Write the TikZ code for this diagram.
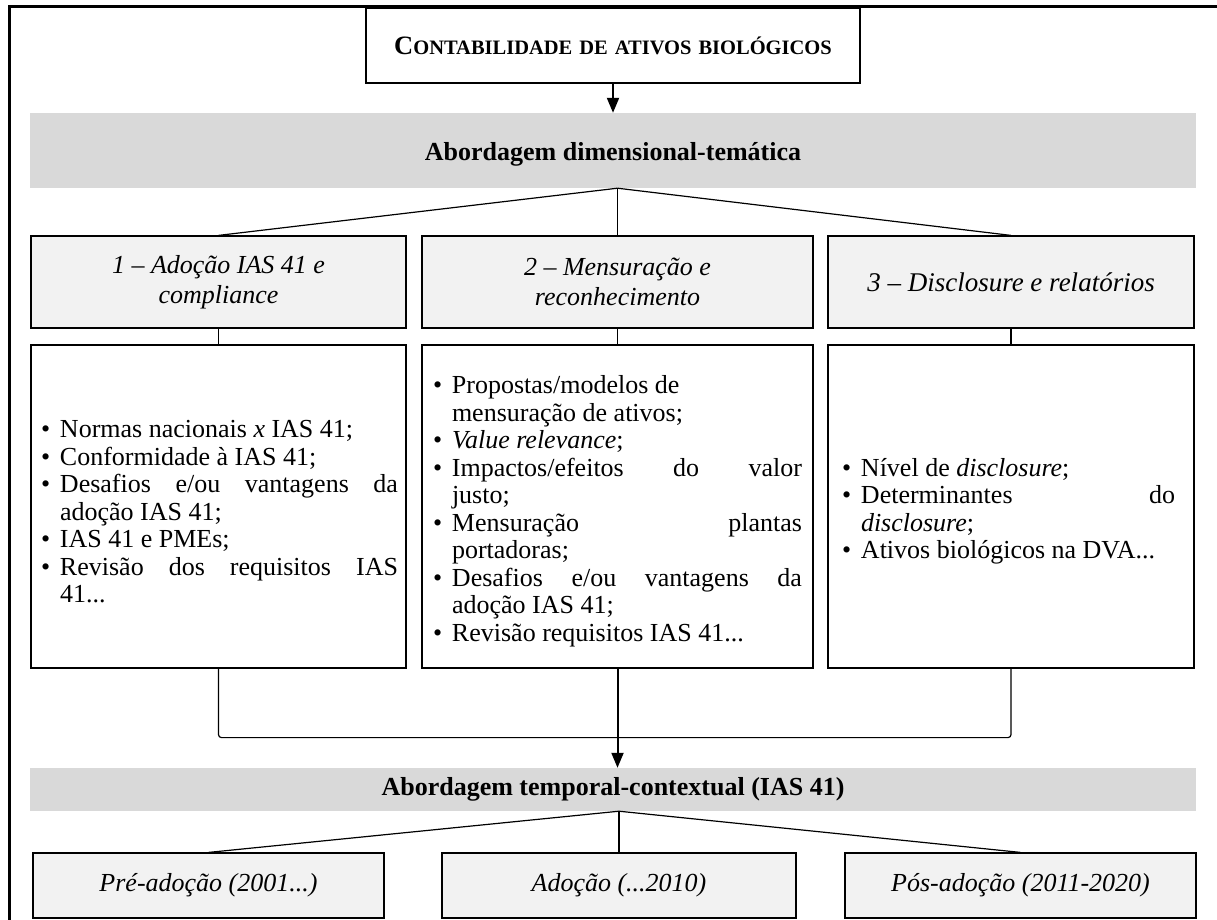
\documentclass[tikz,border=0pt]{standalone}
\usepackage{fontspec}
\setmainfont{Liberation Serif}
\usetikzlibrary{arrows.meta}
\definecolor{bandgray}{HTML}{D9D9D9}
\definecolor{headgray}{HTML}{F2F2F2}
\newcommand{\bitem}[1]{\par\noindent\hangindent=19pt\hangafter=1\makebox[19pt][l]{\textbullet}#1}
\newcommand{\bigC}[1]{{\fontsize{26.5}{30}\selectfont #1}}
\newcommand{\smallC}[1]{{\fontsize{20.5}{30}\selectfont #1}}
\begin{document}
\begin{tikzpicture}[x=1pt,y=-1pt,
  band/.style={fill=bandgray, draw=none, inner sep=0},
  bandtext/.style={inner sep=0, font=\fontsize{26}{30}\selectfont\bfseries},
  head/.style={draw=black, line width=1.2pt, fill=headgray, inner sep=0, align=center, font=\fontsize{26}{30}\selectfont\itshape},
  cbox/.style={draw=black, line width=1.2pt, fill=white, inner sep=0},
  ctext/.style={inner sep=0, align=justify, font=\fontsize{26}{27.5}\selectfont},
  link/.style={line width=1.2pt},
  bigarrow/.style={line width=2pt, -{Triangle[width=12pt,length=15pt]}},
  ]
\useasboundingbox (0,0) rectangle (1217,920);
% frame
\draw[line width=3pt] (1217,7) -- (9,7) -- (9,920);
% title
\node[draw=black, line width=1.2pt, fill=white, minimum width=494pt, minimum height=75pt, inner sep=0] (title) at (613,45.5)
  {\bfseries\bigC{C}\smallC{ONTABILIDADE}\hspace{7pt}\smallC{DE}\hspace{7pt}\smallC{ATIVOS}\hspace{7pt}\smallC{BIOLÓGICOS}};
% band 1
\node[band, minimum width=1166pt, minimum height=75pt] (band1) at (613,150.5) {};
\node[bandtext] (band1t) at ([yshift=-4pt]band1.center) {Abordagem dimensional-temática};
\draw[bigarrow] (title.south) -- (band1.north);
% headers
\node[head, minimum width=375pt, minimum height=92pt] (h1) at (218.5,282) {1 -- Adoção IAS 41 e\\compliance};
\node[head, minimum width=391pt, minimum height=92pt] (h2) at (617.5,282) {2 -- Mensuração e\\reconhecimento};
\node[head, minimum width=366pt, minimum height=92pt, font=\fontsize{27}{32}\selectfont\itshape] (h3) at (1011,282) {3 -- Disclosure e relatórios};
\coordinate (t1) at (h2.north |- band1.south);
\draw[link] (t1) -- (h1.north);
\draw[link] (t1) -- (h2.north);
\draw[link] (t1) -- (h3.north);
% content boxes
\node[cbox, minimum width=375pt, minimum height=323pt] (c1) at (218.5,506.5) {};
\node[cbox, minimum width=391pt, minimum height=323pt] (c2) at (617.5,506.5) {};
\node[cbox, minimum width=366pt, minimum height=323pt] (c3) at (1011,506.5) {};
\draw[link] (h1.south) -- (c1.north);
\draw[link] (h2.south) -- (c2.north);
\draw[link] (h3.south) -- (c3.north);
\node[ctext, text width=357pt] (x1) at (219.5,506.5) {%
\bitem{Normas nacionais \textit{x} IAS 41;}%
\bitem{Conformidade à IAS 41;}%
\bitem{Desafios e/ou vantagens da\linebreak adoção IAS 41;}%
\bitem{IAS 41 e PMEs;}%
\bitem{Revisão dos requisitos IAS\linebreak 41...}\par};
\node[ctext, text width=369pt] (x2) at (617.5,506.5) {%
\bitem{Propostas/modelos de\newline mensuração de ativos;}%
\bitem{\textit{Value relevance};}%
\bitem{Impactos/efeitos do valor\linebreak justo;}%
\bitem{Mensuração plantas\linebreak portadoras;}%
\bitem{Desafios e/ou vantagens da\linebreak adoção IAS 41;}%
\bitem{Revisão requisitos IAS 41...}\par};
\node[ctext, text width=333pt] (x3) at (1008.5,506.5) {%
\bitem{Nível de \textit{disclosure};}%
\bitem{Determinantes do\linebreak \textit{disclosure};}%
\bitem{Ativos biológicos na DVA...}\par};
% bracket
\draw[link, rounded corners=3pt] (c1.south) -- ++(0,69) -| (c3.south);
% band 2
\node[band, minimum width=1166pt, minimum height=43pt] (band2) at (613,789.5) {};
\node[bandtext] (band2t) at (band2.center) {Abordagem temporal-contextual (IAS 41)};
\draw[bigarrow] (c2.south) -- (c2.south |- band2.north);
% bottom boxes
\node[head, minimum width=351pt, minimum height=65pt] (b1) at (208.5,885.5) {Pré-adoção (2001...)};
\node[head, minimum width=354pt, minimum height=65pt] (b2) at (619,885.5) {Adoção (...2010)};
\node[head, minimum width=351pt, minimum height=65pt] (b3) at (1020.5,885.5) {Pós-adoção (2011-2020)};
\coordinate (t2) at (b2.north |- band2.south);
\draw[link] (t2) -- (b1.north);
\draw[link] (t2) -- (b2.north);
\draw[link] (t2) -- (b3.north);
\end{tikzpicture}
\end{document}
